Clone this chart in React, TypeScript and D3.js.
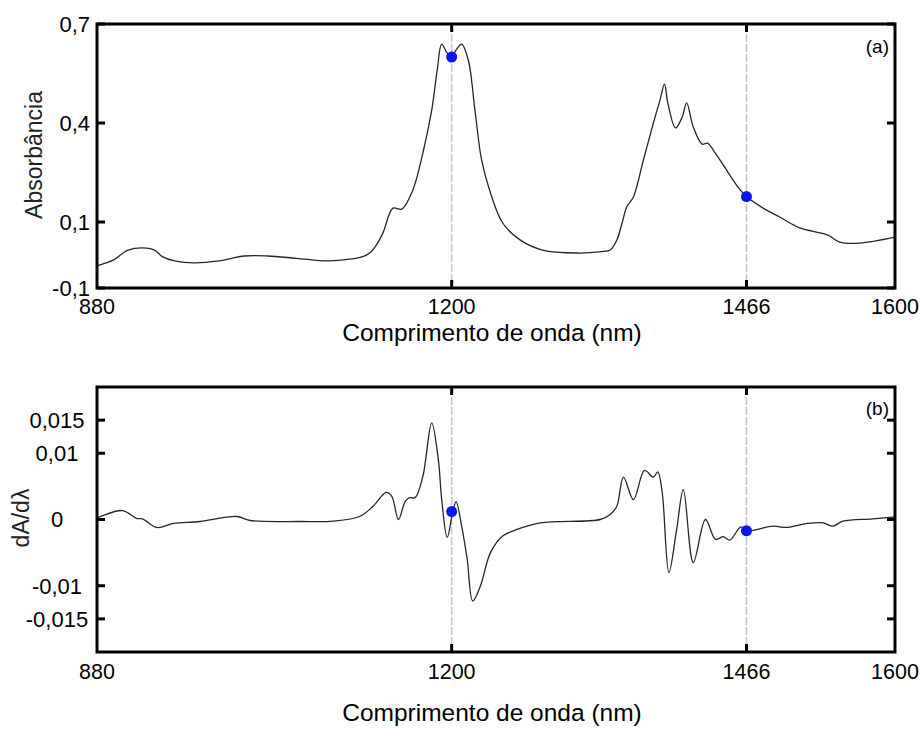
import React from "react";
import * as d3 from "d3";

// ---- Data ----
const absWavelengths = [880, 895, 908, 925, 932, 939, 950, 968, 990, 1013, 1034, 1060, 1088, 1110, 1119, 1126, 1132, 1138, 1147, 1155, 1165, 1174, 1182, 1187, 1191, 1196, 1200, 1204, 1209, 1215, 1221, 1227, 1235, 1246, 1262, 1282, 1313, 1335, 1343, 1349, 1354, 1358, 1364, 1373, 1382, 1388, 1392, 1395, 1402, 1408, 1412, 1418, 1426, 1431, 1436, 1445, 1457, 1466, 1481, 1496, 1514, 1539, 1550, 1568, 1600];
const absValues = [-0.033, -0.015, 0.015, 0.021, 0.015, -0.005, -0.018, -0.024, -0.018, -0.003, -0.003, -0.01, -0.018, -0.012, -0.006, 0.006, 0.03, 0.067, 0.142, 0.139, 0.197, 0.309, 0.439, 0.561, 0.639, 0.612, 0.603, 0.621, 0.639, 0.591, 0.439, 0.288, 0.188, 0.097, 0.045, 0.015, 0.006, 0.01, 0.015, 0.045, 0.1, 0.146, 0.176, 0.288, 0.4, 0.47, 0.518, 0.461, 0.385, 0.418, 0.461, 0.388, 0.336, 0.339, 0.318, 0.273, 0.212, 0.177, 0.142, 0.115, 0.082, 0.061, 0.039, 0.036, 0.054];

const derWavelengths = [880, 883, 903, 916, 921, 934, 949, 973, 1006, 1018, 1063, 1093, 1117, 1129, 1141, 1146, 1152, 1158, 1162, 1167, 1174, 1182, 1188, 1191, 1196, 1201, 1204, 1209, 1214, 1219, 1226, 1235, 1246, 1259, 1280, 1334, 1343, 1349, 1355, 1364, 1374, 1382, 1386, 1390, 1396, 1403, 1409, 1418, 1429, 1438, 1445, 1451, 1461, 1466, 1490, 1502, 1521, 1535, 1544, 1553, 1580, 1600];
const derValues = [0.0003, 0.00045, 0.00135, 0.00015, 0.0001, -0.0012, -0.0006, -0.0003, 0.00045, -0.00015, -0.0003, -0.00025, 0.00045, 0.002, 0.0041, 0.0035, 0, 0.0027, 0.0033, 0.0033, 0.0065, 0.0146, 0.009, 0.003, -0.0027, 0.0012, 0.0027, -0.001, -0.006, -0.0123, -0.01, -0.005, -0.0025, -0.0015, -0.0005, 0, 0.00075, 0.002, 0.0064, 0.003, 0.0074, 0.0064, 0.0072, 0.004, -0.008, -0.0015, 0.0045, -0.0065, 0, -0.003, -0.0026, -0.0031, -0.0011, -0.0017, -0.001, -0.0012, -0.0006, -0.0005, -0.001, -0.00025, 0.0001, 0.0004];

const markedWavelengths = [1200, 1466];
const absMarkValues = [0.6, 0.177];
const derMarkValues = [0.0012, -0.0017];

const xTicks = [880, 1200, 1466, 1600];
const absTicks = [-0.1, 0.1, 0.4, 0.7];
const absTickLabels = ["-0,1", "0,1", "0,4", "0,7"];
const derTicks = [-0.015, -0.01, 0, 0.01, 0.015];
const derTickLabels = ["-0,015", "-0,01", "0", "0,01", "0,015"];

const FONT = "'Liberation Sans', Arial, Helvetica, sans-serif";

type PanelProps = {
  top: number;
  bottom: number;
  yDomain: [number, number];
  xs: number[];
  ys: number[];
  marks: number[];
  yTicks: number[];
  yTickLabels: string[];
  labelAnchor: "end" | "middle";
  labelX: number;
  xTickBaseline: number;
  xTitleBaseline: number;
  tag: string;
  tagBaseline: number;
  yTitle: string;
  yTitleX: number;
  yTitleY: number;
};

const LEFT = 97;
const RIGHT = 895;

function Panel(p: PanelProps) {
  const x = d3.scaleLinear().domain([880, 1600]).range([LEFT, RIGHT]);
  const y = d3.scaleLinear().domain(p.yDomain).range([p.bottom, p.top]);
  const pts: [number, number][] = p.xs.map((v, i) => [v, p.ys[i]]);
  const line = d3
    .line<[number, number]>()
    .x((d) => x(d[0]))
    .y((d) => y(d[1]))
    .curve(d3.curveCatmullRom.alpha(0.5));
  const tickLen = 8;
  return (
    <g>
      {markedWavelengths.map((w) => (
        <line key={"v" + w} x1={x(w)} x2={x(w)} y1={p.top} y2={p.bottom} stroke="#c8c8c8" strokeWidth={1.6} strokeDasharray="8,2" />
      ))}
      <path d={line(pts) || ""} fill="none" stroke="#262626" strokeWidth={1.3} />
      {markedWavelengths.map((w, i) => (
        <circle key={"c" + w} cx={x(w)} cy={y(p.marks[i])} r={5.5} fill="#0a14ff" />
      ))}
      <rect x={LEFT} y={p.top} width={RIGHT - LEFT} height={p.bottom - p.top} fill="none" stroke="#000" strokeWidth={3} />
      {p.yTicks.map((t) => (
        <g key={"yt" + t}>
          <line x1={LEFT} x2={LEFT + tickLen} y1={y(t)} y2={y(t)} stroke="#000" strokeWidth={3} />
          <line x1={RIGHT - tickLen} x2={RIGHT} y1={y(t)} y2={y(t)} stroke="#000" strokeWidth={3} />
        </g>
      ))}
      {markedWavelengths.map((w) => (
        <g key={"xt" + w}>
          <line x1={x(w)} x2={x(w)} y1={p.bottom} y2={p.bottom - tickLen} stroke="#000" strokeWidth={3} />
          <line x1={x(w)} x2={x(w)} y1={p.top} y2={p.top + tickLen} stroke="#000" strokeWidth={3} />
        </g>
      ))}
      {p.yTicks.map((t, i) => (
        <text key={"yl" + t} x={p.labelX} y={y(t)} dy="0.36em" textAnchor={p.labelAnchor} fontSize={22} fontFamily={FONT} fill="#000">
          {p.yTickLabels[i]}
        </text>
      ))}
      {xTicks.map((t) => (
        <text key={"xl" + t} x={x(t)} y={p.xTickBaseline} textAnchor="middle" fontSize={21.5} fontFamily={FONT} fill="#000">
          {t}
        </text>
      ))}
      <text x={492} y={p.xTitleBaseline} textAnchor="middle" fontSize={24.5} fontFamily={FONT} fill="#000">
        Comprimento de onda (nm)
      </text>
      <text x={889} y={p.tagBaseline} textAnchor="end" fontSize={19} fontFamily={FONT} fill="#000">
        {p.tag}
      </text>
      <text
        transform={`translate(${p.yTitleX},${p.yTitleY}) rotate(-90)`}
        textAnchor="middle"
        fontSize={23}
        fontFamily={FONT}
        fill="#222"
      >
        {p.yTitle}
      </text>
    </g>
  );
}

export default function App() {
  return (
    <svg width={923} height={729} style={{ position: "absolute", left: 0, top: 0, background: "#fff" }}>
      <rect x={0} y={0} width={923} height={729} fill="#fff" />
      <Panel
        top={24}
        bottom={288}
        yDomain={[-0.1, 0.7]}
        xs={absWavelengths}
        ys={absValues}
        marks={absMarkValues}
        yTicks={absTicks}
        yTickLabels={absTickLabels}
        labelAnchor="end"
        labelX={90}
        xTickBaseline={314}
        xTitleBaseline={341}
        tag="(a)"
        tagBaseline={53}
        yTitle="Absorbância"
        yTitleX={42}
        yTitleY={155}
      />
      <Panel
        top={387}
        bottom={652}
        yDomain={[-0.02, 0.02]}
        xs={derWavelengths}
        ys={derValues}
        marks={derMarkValues}
        yTicks={derTicks}
        yTickLabels={derTickLabels}
        labelAnchor="middle"
        labelX={57}
        xTickBaseline={679}
        xTitleBaseline={721}
        tag="(b)"
        tagBaseline={415}
        yTitle="dA/dλ"
        yTitleX={29}
        yTitleY={518}
      />
    </svg>
  );
}
